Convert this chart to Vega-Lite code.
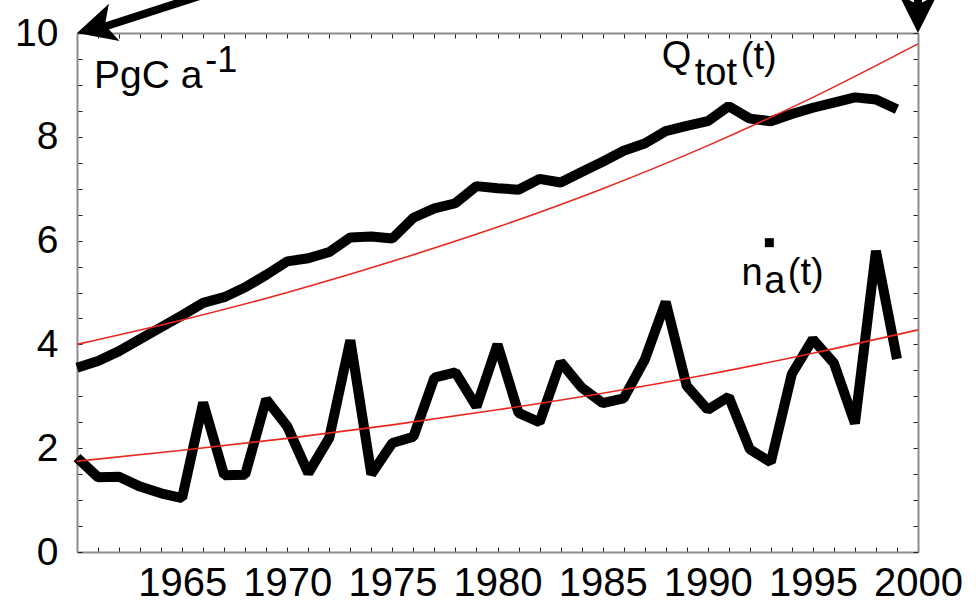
{
  "$schema": "https://vega.github.io/schema/vega-lite/v6.json",
  "width": 841,
  "height": 519,
  "autosize": {"type": "none"},
  "padding": {"left": 77, "top": 33, "right": 58, "bottom": 52},
  "background": "white",
  "config": {
    "view": {"stroke": null},
    "font": "Liberation Sans",
    "axis": {
      "grid": false,
      "title": null,
      "domainColor": "#8c8c8c",
      "domainWidth": 2,
      "tickColor": "#222222",
      "tickWidth": 1,
      "labelFont": "Liberation Sans",
      "labelFontSize": 39,
      "labelColor": "#000000",
      "labelFlush": false,
      "labelOverlap": false,
      "labelBound": false
    }
  },
  "datasets": {
    "observed": [
      {"year": 1960, "series": "Qtot", "value": 3.55},
      {"year": 1961, "series": "Qtot", "value": 3.68},
      {"year": 1962, "series": "Qtot", "value": 3.87},
      {"year": 1963, "series": "Qtot", "value": 4.10},
      {"year": 1964, "series": "Qtot", "value": 4.33},
      {"year": 1965, "series": "Qtot", "value": 4.56},
      {"year": 1966, "series": "Qtot", "value": 4.80},
      {"year": 1967, "series": "Qtot", "value": 4.91},
      {"year": 1968, "series": "Qtot", "value": 5.10},
      {"year": 1969, "series": "Qtot", "value": 5.34},
      {"year": 1970, "series": "Qtot", "value": 5.60},
      {"year": 1971, "series": "Qtot", "value": 5.66},
      {"year": 1972, "series": "Qtot", "value": 5.78},
      {"year": 1973, "series": "Qtot", "value": 6.06},
      {"year": 1974, "series": "Qtot", "value": 6.08},
      {"year": 1975, "series": "Qtot", "value": 6.04},
      {"year": 1976, "series": "Qtot", "value": 6.44},
      {"year": 1977, "series": "Qtot", "value": 6.62},
      {"year": 1978, "series": "Qtot", "value": 6.72},
      {"year": 1979, "series": "Qtot", "value": 7.05},
      {"year": 1980, "series": "Qtot", "value": 7.01},
      {"year": 1981, "series": "Qtot", "value": 6.98},
      {"year": 1982, "series": "Qtot", "value": 7.19},
      {"year": 1983, "series": "Qtot", "value": 7.12},
      {"year": 1984, "series": "Qtot", "value": 7.32},
      {"year": 1985, "series": "Qtot", "value": 7.52},
      {"year": 1986, "series": "Qtot", "value": 7.73},
      {"year": 1987, "series": "Qtot", "value": 7.87},
      {"year": 1988, "series": "Qtot", "value": 8.11},
      {"year": 1989, "series": "Qtot", "value": 8.21},
      {"year": 1990, "series": "Qtot", "value": 8.30},
      {"year": 1991, "series": "Qtot", "value": 8.59},
      {"year": 1992, "series": "Qtot", "value": 8.35},
      {"year": 1993, "series": "Qtot", "value": 8.30},
      {"year": 1994, "series": "Qtot", "value": 8.44},
      {"year": 1995, "series": "Qtot", "value": 8.56},
      {"year": 1996, "series": "Qtot", "value": 8.66},
      {"year": 1997, "series": "Qtot", "value": 8.76},
      {"year": 1998, "series": "Qtot", "value": 8.72},
      {"year": 1999, "series": "Qtot", "value": 8.53},
      {"year": 1960, "series": "na", "value": 1.82},
      {"year": 1961, "series": "na", "value": 1.44},
      {"year": 1962, "series": "na", "value": 1.45},
      {"year": 1963, "series": "na", "value": 1.26},
      {"year": 1964, "series": "na", "value": 1.13},
      {"year": 1965, "series": "na", "value": 1.04},
      {"year": 1966, "series": "na", "value": 2.88},
      {"year": 1967, "series": "na", "value": 1.48},
      {"year": 1968, "series": "na", "value": 1.49},
      {"year": 1969, "series": "na", "value": 2.94},
      {"year": 1970, "series": "na", "value": 2.42},
      {"year": 1971, "series": "na", "value": 1.52},
      {"year": 1972, "series": "na", "value": 2.20},
      {"year": 1973, "series": "na", "value": 4.08},
      {"year": 1974, "series": "na", "value": 1.50},
      {"year": 1975, "series": "na", "value": 2.10},
      {"year": 1976, "series": "na", "value": 2.22},
      {"year": 1977, "series": "na", "value": 3.36},
      {"year": 1978, "series": "na", "value": 3.46},
      {"year": 1979, "series": "na", "value": 2.80},
      {"year": 1980, "series": "na", "value": 4.00},
      {"year": 1981, "series": "na", "value": 2.68},
      {"year": 1982, "series": "na", "value": 2.50},
      {"year": 1983, "series": "na", "value": 3.66},
      {"year": 1984, "series": "na", "value": 3.17},
      {"year": 1985, "series": "na", "value": 2.87},
      {"year": 1986, "series": "na", "value": 2.96},
      {"year": 1987, "series": "na", "value": 3.70},
      {"year": 1988, "series": "na", "value": 4.82},
      {"year": 1989, "series": "na", "value": 3.20},
      {"year": 1990, "series": "na", "value": 2.74},
      {"year": 1991, "series": "na", "value": 2.99},
      {"year": 1992, "series": "na", "value": 1.98},
      {"year": 1993, "series": "na", "value": 1.73},
      {"year": 1994, "series": "na", "value": 3.43},
      {"year": 1995, "series": "na", "value": 4.10},
      {"year": 1996, "series": "na", "value": 3.64},
      {"year": 1997, "series": "na", "value": 2.48},
      {"year": 1998, "series": "na", "value": 5.80},
      {"year": 1999, "series": "na", "value": 3.72}
    ],
    "fitted": [
      {"year": 1960, "series": "Qtot", "value": 4.00},
      {"year": 1965, "series": "Qtot", "value": 4.47},
      {"year": 1970, "series": "Qtot", "value": 5.00},
      {"year": 1975, "series": "Qtot", "value": 5.60},
      {"year": 1980, "series": "Qtot", "value": 6.26},
      {"year": 1985, "series": "Qtot", "value": 7.00},
      {"year": 1990, "series": "Qtot", "value": 7.83},
      {"year": 1995, "series": "Qtot", "value": 8.76},
      {"year": 2000, "series": "Qtot", "value": 9.79},
      {"year": 1960, "series": "na", "value": 1.75},
      {"year": 1965, "series": "na", "value": 1.96},
      {"year": 1970, "series": "na", "value": 2.19},
      {"year": 1975, "series": "na", "value": 2.45},
      {"year": 1980, "series": "na", "value": 2.74},
      {"year": 1985, "series": "na", "value": 3.06},
      {"year": 1990, "series": "na", "value": 3.42},
      {"year": 1995, "series": "na", "value": 3.83},
      {"year": 2000, "series": "na", "value": 4.28}
    ],
    "anchor": [{}]
  },
  "layer": [
    {
      "data": {"name": "observed"},
      "mark": {"type": "line", "color": "#000000", "strokeWidth": 10, "strokeJoin": "bevel", "strokeCap": "butt"},
      "encoding": {
        "x": {
          "field": "year", "type": "quantitative",
          "scale": {"domain": [1960, 2000], "nice": false, "zero": false},
          "axis": {
            "orient": "bottom",
            "values": [1960, 1961, 1962, 1963, 1964, 1965, 1966, 1967, 1968, 1969, 1970, 1971, 1972, 1973, 1974, 1975, 1976, 1977, 1978, 1979, 1980, 1981, 1982, 1983, 1984, 1985, 1986, 1987, 1988, 1989, 1990, 1991, 1992, 1993, 1994, 1995, 1996, 1997, 1998, 1999, 2000],
            "labelExpr": "datum.value % 5 == 0 && datum.value > 1960 ? format(datum.value, 'd') : ''",
            "labelFontSize": 40,
            "tickSize": -5,
            "labelPadding": 16
          }
        },
        "y": {
          "field": "value", "type": "quantitative",
          "scale": {"domain": [0, 10], "nice": false},
          "axis": {
            "orient": "left",
            "values": [0, 0.5, 1, 1.5, 2, 2.5, 3, 3.5, 4, 4.5, 5, 5.5, 6, 6.5, 7, 7.5, 8, 8.5, 9, 9.5, 10],
            "labelExpr": "datum.value % 2 == 0 ? format(datum.value, 'd') : ''",
            "tickSize": -5,
            "labelPadding": 24
          }
        },
        "detail": {"field": "series"}
      }
    },
    {
      "data": {"name": "fitted"},
      "mark": {"type": "line", "color": "#e8281e", "strokeWidth": 1.6, "interpolate": "monotone"},
      "encoding": {
        "x": {
          "field": "year", "type": "quantitative",
          "scale": {"domain": [1960, 2000], "nice": false, "zero": false},
          "axis": {
            "orient": "top",
            "labels": false,
            "tickSize": -5,
            "values": [1960, 1961, 1962, 1963, 1964, 1965, 1966, 1967, 1968, 1969, 1970, 1971, 1972, 1973, 1974, 1975, 1976, 1977, 1978, 1979, 1980, 1981, 1982, 1983, 1984, 1985, 1986, 1987, 1988, 1989, 1990, 1991, 1992, 1993, 1994, 1995, 1996, 1997, 1998, 1999, 2000]
          }
        },
        "y": {
          "field": "value", "type": "quantitative",
          "scale": {"domain": [0, 10], "nice": false},
          "axis": {
            "orient": "right",
            "labels": false,
            "tickSize": -5,
            "values": [0, 0.5, 1, 1.5, 2, 2.5, 3, 3.5, 4, 4.5, 5, 5.5, 6, 6.5, 7, 7.5, 8, 8.5, 9, 9.5, 10]
          }
        },
        "detail": {"field": "series"}
      }
    },
    {
      "data": {"name": "anchor"},
      "mark": {"type": "rule", "color": "#000000", "strokeWidth": 8, "clip": false},
      "encoding": {
        "x": {"datum": 1966.86, "type": "quantitative", "axis": null, "scale": {"domain": [1960, 2000], "nice": false, "zero": false}},
        "y": {"datum": 10.848, "type": "quantitative", "axis": null, "scale": {"domain": [0, 10], "nice": false}},
        "x2": {"datum": 1961.3},
        "y2": {"datum": 10.12}
      }
    },
    {
      "data": {"name": "anchor"},
      "mark": {"type": "rule", "color": "#000000", "strokeWidth": 8, "clip": false},
      "encoding": {
        "x": {"datum": 2000, "type": "quantitative", "axis": null, "scale": {"domain": [1960, 2000], "nice": false, "zero": false}},
        "y": {"datum": 10.75, "type": "quantitative", "axis": null, "scale": {"domain": [0, 10], "nice": false}},
        "y2": {"datum": 10.4}
      }
    },
    {
      "data": {"name": "anchor"},
      "mark": {"type": "point", "shape": "M0,0L1,2L0,1.5L-1,2Z", "size": 1500, "angle": 254, "filled": true, "color": "#000000", "opacity": 1, "strokeWidth": 0, "clip": false},
      "encoding": {
        "x": {"datum": 1960, "type": "quantitative", "axis": null, "scale": {"domain": [1960, 2000], "nice": false, "zero": false}},
        "y": {"datum": 10, "type": "quantitative", "axis": null, "scale": {"domain": [0, 10], "nice": false}}
      }
    },
    {
      "data": {"name": "anchor"},
      "mark": {"type": "point", "shape": "M0,0L1,2L0,1.5L-1,2Z", "size": 1450, "angle": 180, "filled": true, "color": "#000000", "opacity": 1, "strokeWidth": 0, "clip": false},
      "encoding": {
        "x": {"datum": 2000, "type": "quantitative", "axis": null, "scale": {"domain": [1960, 2000], "nice": false, "zero": false}},
        "y": {"datum": 10, "type": "quantitative", "axis": null, "scale": {"domain": [0, 10], "nice": false}}
      }
    },
    {
      "data": {"name": "anchor"},
      "mark": {"type": "point", "shape": "square", "size": 81, "filled": true, "color": "#000000", "opacity": 1, "strokeWidth": 0},
      "encoding": {
        "x": {"datum": 1992.93, "type": "quantitative", "axis": null, "scale": {"domain": [1960, 2000], "nice": false, "zero": false}},
        "y": {"datum": 5.96, "type": "quantitative", "axis": null, "scale": {"domain": [0, 10], "nice": false}}
      }
    },
    {
      "data": {"name": "anchor"},
      "mark": {"type": "text", "text": "PgC a", "fontSize": 39, "font": "Liberation Sans", "align": "left", "baseline": "alphabetic", "color": "#000000"},
      "encoding": {
        "x": {"datum": 1960.81, "type": "quantitative", "axis": null, "scale": {"domain": [1960, 2000], "nice": false, "zero": false}},
        "y": {"datum": 8.935, "type": "quantitative", "axis": null, "scale": {"domain": [0, 10], "nice": false}}
      }
    },
    {
      "data": {"name": "anchor"},
      "mark": {"type": "text", "text": "-1", "fontSize": 36, "font": "Liberation Sans", "align": "left", "baseline": "alphabetic", "color": "#000000"},
      "encoding": {
        "x": {"datum": 1966.1, "type": "quantitative", "axis": null, "scale": {"domain": [1960, 2000], "nice": false, "zero": false}},
        "y": {"datum": 9.249, "type": "quantitative", "axis": null, "scale": {"domain": [0, 10], "nice": false}}
      }
    },
    {
      "data": {"name": "anchor"},
      "mark": {"type": "text", "text": "Q", "fontSize": 38, "font": "Liberation Sans", "align": "left", "baseline": "alphabetic", "color": "#000000"},
      "encoding": {
        "x": {"datum": 1987.81, "type": "quantitative", "axis": null, "scale": {"domain": [1960, 2000], "nice": false, "zero": false}},
        "y": {"datum": 9.326, "type": "quantitative", "axis": null, "scale": {"domain": [0, 10], "nice": false}}
      }
    },
    {
      "data": {"name": "anchor"},
      "mark": {"type": "text", "text": "tot", "fontSize": 38, "font": "Liberation Sans", "align": "left", "baseline": "alphabetic", "color": "#000000"},
      "encoding": {
        "x": {"datum": 1989.38, "type": "quantitative", "axis": null, "scale": {"domain": [1960, 2000], "nice": false, "zero": false}},
        "y": {"datum": 8.998, "type": "quantitative", "axis": null, "scale": {"domain": [0, 10], "nice": false}}
      }
    },
    {
      "data": {"name": "anchor"},
      "mark": {"type": "text", "text": "(t)", "fontSize": 38, "font": "Liberation Sans", "align": "left", "baseline": "alphabetic", "color": "#000000"},
      "encoding": {
        "x": {"datum": 1991.57, "type": "quantitative", "axis": null, "scale": {"domain": [1960, 2000], "nice": false, "zero": false}},
        "y": {"datum": 9.306, "type": "quantitative", "axis": null, "scale": {"domain": [0, 10], "nice": false}}
      }
    },
    {
      "data": {"name": "anchor"},
      "mark": {"type": "text", "text": "n", "fontSize": 38, "font": "Liberation Sans", "align": "left", "baseline": "alphabetic", "color": "#000000"},
      "encoding": {
        "x": {"datum": 1991.6, "type": "quantitative", "axis": null, "scale": {"domain": [1960, 2000], "nice": false, "zero": false}},
        "y": {"datum": 5.145, "type": "quantitative", "axis": null, "scale": {"domain": [0, 10], "nice": false}}
      }
    },
    {
      "data": {"name": "anchor"},
      "mark": {"type": "text", "text": "a", "fontSize": 38, "font": "Liberation Sans", "align": "left", "baseline": "alphabetic", "color": "#000000"},
      "encoding": {
        "x": {"datum": 1992.69, "type": "quantitative", "axis": null, "scale": {"domain": [1960, 2000], "nice": false, "zero": false}},
        "y": {"datum": 4.985, "type": "quantitative", "axis": null, "scale": {"domain": [0, 10], "nice": false}}
      }
    },
    {
      "data": {"name": "anchor"},
      "mark": {"type": "text", "text": "(t)", "fontSize": 38, "font": "Liberation Sans", "align": "left", "baseline": "alphabetic", "color": "#000000"},
      "encoding": {
        "x": {"datum": 1993.81, "type": "quantitative", "axis": null, "scale": {"domain": [1960, 2000], "nice": false, "zero": false}},
        "y": {"datum": 5.145, "type": "quantitative", "axis": null, "scale": {"domain": [0, 10], "nice": false}}
      }
    }
  ],
  "resolve": {"axis": {"x": "independent", "y": "independent"}}
}
